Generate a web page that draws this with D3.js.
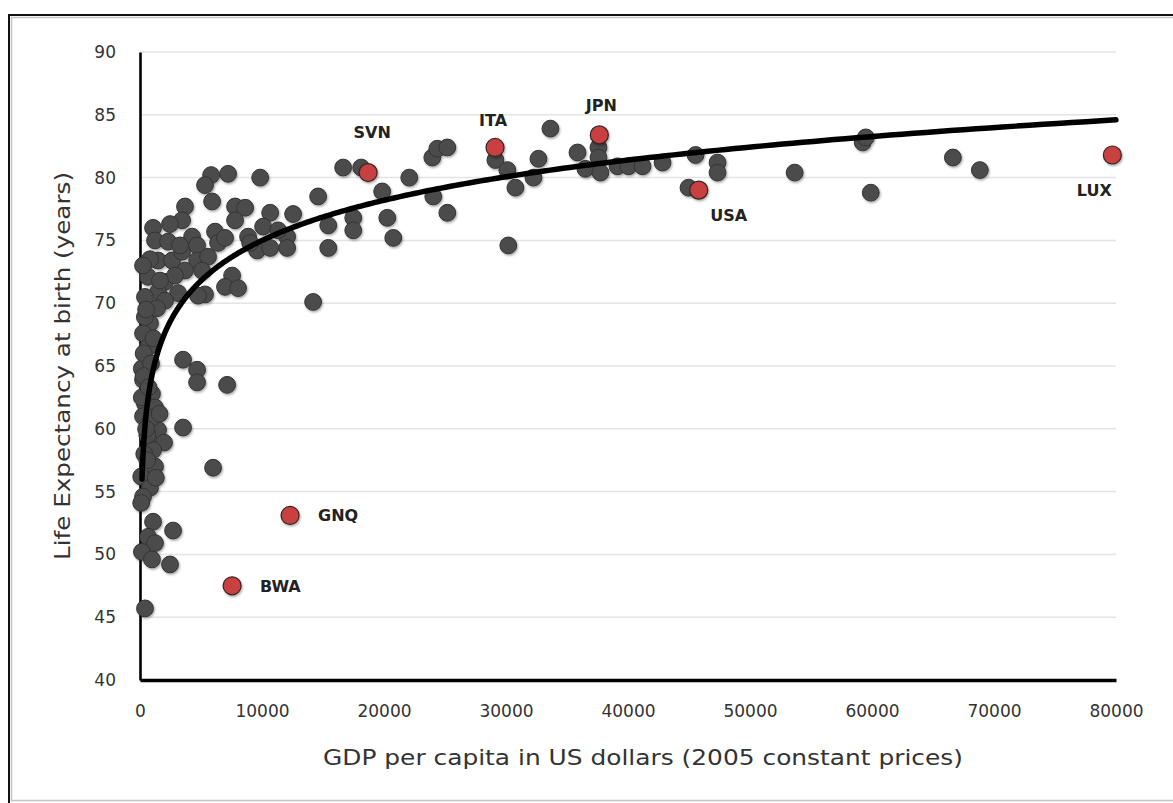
<!DOCTYPE html>
<html>
<head>
<meta charset="utf-8">
<script src="https://cdn.jsdelivr.net/npm/d3@7"></script>
<style>
  html, body { margin: 0; padding: 0; background: #fff; }
  svg { display: block; }
</style>
</head>
<body>
<svg id="chart" width="1173" height="803"></svg>
<script>
// GDP per capita (2005 US$) and life expectancy for all countries
const gdpValues = [
  16650, 18130, 14600, 19850, 22070, 12550, 15430, 17480, 17480, 20270,
  15430, 20760, 12060, 12060, 23960, 24370, 25190, 24040, 25190, 29130,
  30110, 30770, 30190, 32660, 32250, 33640, 35860, 36510, 37580, 37580,
  37740, 39140, 40040, 41190, 42830, 45540, 44960, 47340, 47340, 53660,
  59240, 59490, 59900, 66630, 68840, 9850, 10670, 10090, 11320, 9600,
  10670, 14190, 5830, 5330, 7220, 5910, 3690, 3450, 7790, 8620,
  7790, 1070, 1230, 2300, 4270, 4680, 6150, 6400, 6970, 8860,
  1480, 2630, 3450, 4680, 5580, 5090, 660, 2050, 1480, 3120,
  7550, 6970, 8040, 410, 5330, 2050, 3280, 4760, 3690, 2870,
  820, 250, 820, 250, 660, 150, 250, 980, 410, 1230,
  250, 820, 1480, 820, 1970, 1070, 1230, 5990, 100, 820,
  250, 100, 1070, 2710, 660, 1230, 160, 980, 2460, 410,
  3530, 4680, 4680, 7140, 3530, 400, 1400, 9030, 300, 900,
  150, 600, 350, 600, 1640, 2460, 500, 1100, 300, 700,
  1000, 500, 1600, 1300
];
const lifeValues = [
  80.8, 80.8, 78.5, 78.9, 80.0, 77.1, 76.2, 76.8, 75.8, 76.8,
  74.4, 75.2, 75.3, 74.4, 81.6, 82.3, 82.4, 78.5, 77.2, 81.4,
  80.6, 79.2, 74.6, 81.5, 80.0, 83.9, 82.0, 80.7, 82.4, 81.6,
  80.4, 80.9, 80.9, 80.9, 81.2, 81.8, 79.2, 81.2, 80.4, 80.4,
  82.8, 83.2, 78.8, 81.6, 80.6, 80.0, 77.2, 76.1, 75.8, 74.2,
  74.4, 70.1, 80.2, 79.4, 80.3, 78.1, 77.7, 76.6, 77.7, 77.6,
  76.6, 76.0, 75.0, 74.9, 75.3, 74.6, 75.7, 74.8, 75.2, 75.3,
  73.4, 73.4, 74.1, 73.4, 73.7, 72.6, 72.1, 71.7, 70.9, 70.8,
  72.2, 71.3, 71.2, 70.5, 70.7, 70.2, 74.6, 70.6, 72.6, 72.2,
  73.5, 73.0, 68.4, 67.6, 66.5, 64.8, 63.9, 62.8, 62.0, 61.7,
  61.0, 60.5, 59.9, 58.9, 58.9, 58.3, 57.0, 56.9, 56.2, 55.3,
  54.6, 54.1, 52.6, 51.9, 51.4, 50.9, 50.2, 49.6, 49.2, 45.7,
  65.5, 64.7, 63.7, 63.5, 60.1, 68.9, 69.6, 74.8, 66.0, 65.2,
  62.5, 59.5, 58.0, 57.5, 71.8, 76.3, 69.5, 67.2, 64.2, 63.3,
  60.9, 60.0, 61.2, 56.1
];

// Highlighted countries
const highlightCodes = ["SVN", "ITA", "JPN", "USA", "LUX", "GNQ", "BWA"];
const highlightGdp   = [18700, 29100, 37650, 45800, 79700, 12300, 7550];
const highlightLife  = [80.4, 82.4, 83.4, 79.0, 81.8, 53.1, 47.5];

// Logarithmic trend: life = intercept + slope * ln(gdp)
const trendIntercept = 32.44;
const trendSlope = 4.62;
const trendRange = [164, 80000];

// Axis ticks
const xTicks = [0, 10000, 20000, 30000, 40000, 50000, 60000, 70000, 80000];
const yTicks = [40, 45, 50, 55, 60, 65, 70, 75, 80, 85, 90];

const xTitle = "GDP per capita in US dollars (2005 constant prices)";
const yTitle = "Life Expectancy at birth (years)";

// ---- drawing ----
const svg = d3.select("#chart");
const x = d3.scaleLinear().domain([0, 80000]).range([140, 1116]);
const y = d3.scaleLinear().domain([40, 90]).range([680, 52]);

// label placement relative to each highlighted point
const labelPlacement = {
  SVN: { dx: 4,   dy: -35, anchor: "middle" },
  ITA: { dx: -2,  dy: -21, anchor: "middle" },
  JPN: { dx: 2,   dy: -24, anchor: "middle" },
  USA: { dx: 30,  dy: 31,  anchor: "middle" },
  LUX: { dx: -18, dy: 41,  anchor: "middle" },
  GNQ: { dx: 28,  dy: 6,   anchor: "start" },
  BWA: { dx: 28,  dy: 6,   anchor: "start" }
};

const defs = svg.append("defs");
const shadow = defs.append("filter").attr("id", "dotShadow")
  .attr("x", "-50%").attr("y", "-50%").attr("width", "200%").attr("height", "200%");
shadow.append("feDropShadow")
  .attr("dx", 1).attr("dy", 1.5).attr("stdDeviation", 1.3)
  .attr("flood-color", "#000").attr("flood-opacity", 0.35);

// outer frame
svg.append("rect").attr("x", 9).attr("y", 15).attr("width", 1175).attr("height", 800)
  .attr("fill", "none").attr("stroke", "#111").attr("stroke-width", 2);
svg.append("rect").attr("x", 11.5).attr("y", 17.5).attr("width", 1170).attr("height", 783)
  .attr("fill", "none").attr("stroke", "#c4c4c4").attr("stroke-width", 1.5);

// horizontal gridlines
svg.append("g").selectAll("line")
  .data(yTicks.filter(t => t > 40))
  .join("line")
  .attr("x1", x(0)).attr("x2", x(80000))
  .attr("y1", d => y(d)).attr("y2", d => y(d))
  .attr("stroke", "#e4e4e4").attr("stroke-width", 1.5);

// y axis
const yAxis = svg.append("g")
  .attr("transform", `translate(${x(0)},0)`)
  .call(d3.axisLeft(y).tickValues(yTicks).tickSize(0).tickPadding(24));
yAxis.select(".domain").attr("stroke", "#000").attr("stroke-width", 2.6);
yAxis.selectAll("text")
  .attr("font-family", "DejaVu Sans").attr("font-size", 17).attr("fill", "#333");

// x axis
const xAxis = svg.append("g")
  .attr("transform", `translate(0,${y(40)})`)
  .call(d3.axisBottom(x).tickValues(xTicks).tickFormat(d3.format("d")).tickSize(0).tickPadding(25));
xAxis.select(".domain").attr("stroke", "#000").attr("stroke-width", 3.5);
xAxis.selectAll("text")
  .attr("font-family", "DejaVu Sans").attr("font-size", 17).attr("fill", "#333");

// axis titles
svg.append("text")
  .attr("x", 643).attr("y", 765)
  .attr("text-anchor", "middle")
  .attr("font-family", "DejaVu Sans").attr("font-size", 22).attr("fill", "#333")
  .attr("textLength", 640).attr("lengthAdjust", "spacingAndGlyphs")
  .text(xTitle);
svg.append("text")
  .attr("transform", "translate(70,366) rotate(-90)")
  .attr("text-anchor", "middle")
  .attr("font-family", "DejaVu Sans").attr("font-size", 22).attr("fill", "#333")
  .attr("textLength", 388).attr("lengthAdjust", "spacingAndGlyphs")
  .text(yTitle);

// all countries
const countries = gdpValues.map((g, i) => ({ gdp: g, life: lifeValues[i] }));
svg.append("g").attr("filter", "url(#dotShadow)")
  .selectAll("circle")
  .data(countries)
  .join("circle")
  .attr("cx", d => x(d.gdp)).attr("cy", d => y(d.life))
  .attr("r", 8.4)
  .attr("fill", "#4c4c4c").attr("stroke", "#333").attr("stroke-width", 1);

// trend line
const trendPoints = d3.range(0, 401).map(i => {
  const g = trendRange[0] * Math.pow(trendRange[1] / trendRange[0], i / 400);
  return { gdp: g, life: trendIntercept + trendSlope * Math.log(g) };
});
svg.append("path")
  .datum(trendPoints)
  .attr("d", d3.line().x(d => x(d.gdp)).y(d => y(d.life)))
  .attr("fill", "none").attr("stroke", "#000").attr("stroke-width", 5.5)
  .attr("stroke-linecap", "round");

// highlighted countries
const highlighted = highlightCodes.map((c, i) => ({ code: c, gdp: highlightGdp[i], life: highlightLife[i] }));
svg.append("g").attr("filter", "url(#dotShadow)")
  .selectAll("circle")
  .data(highlighted)
  .join("circle")
  .attr("cx", d => x(d.gdp)).attr("cy", d => y(d.life))
  .attr("r", 9)
  .attr("fill", "#c8413f").attr("stroke", "#3a2424").attr("stroke-width", 1.2);

svg.append("g").selectAll("text")
  .data(highlighted)
  .join("text")
  .attr("x", d => x(d.gdp) + labelPlacement[d.code].dx)
  .attr("y", d => y(d.life) + labelPlacement[d.code].dy)
  .attr("text-anchor", d => labelPlacement[d.code].anchor)
  .attr("font-family", "DejaVu Sans").attr("font-weight", "bold").attr("font-size", 16)
  .attr("fill", "#222")
  .text(d => d.code);
</script>
</body>
</html>
